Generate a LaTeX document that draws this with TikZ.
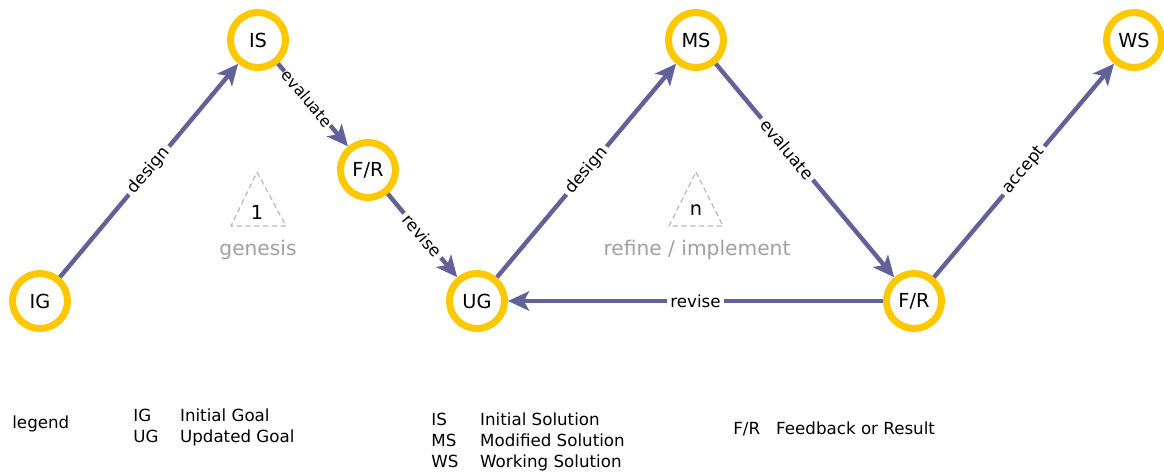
\documentclass[tikz,border=0pt]{standalone}
\usepackage{fontspec}
\setmainfont{DejaVu Sans}
\usetikzlibrary{arrows.meta}
\definecolor{ringgold}{RGB}{252,200,0}
\definecolor{flowblue}{RGB}{98,98,152}
\definecolor{softgray}{RGB}{160,160,160}
\definecolor{dashgray}{RGB}{185,185,185}
\begin{document}
\begin{tikzpicture}[x=0.02cm, y=-0.02cm,
    stage/.style={circle, draw=ringgold, line width=4pt, minimum size=1.1cm,
      inner sep=0pt, font=\fontsize{11}{13}\selectfont},
    flow/.style={draw=flowblue, line width=2.5pt,
      -{Stealth[length=12pt, width=11pt, inset=3pt]}},
    lbl/.style={sloped, fill=white, inner xsep=2pt, inner ysep=1pt,
      font=\fontsize{9.5}{11}\selectfont},
    phase/.style={text=softgray, font=\fontsize{11.5}{13}\selectfont},
    legend/.style={anchor=west, inner sep=0pt}]
    \useasboundingbox (0,0) rectangle (1164,474);
    % stages
    \node[stage] (ig) at (40,301) {IG};
    \node[stage] (is) at (258,40) {IS};
    \node[stage] (fr1) at (368,170) {F/R};
    \node[stage] (ug) at (477,301) {UG};
    \node[stage] (ms) at (696,40) {MS};
    \node[stage] (fr2) at (914,301) {F/R};
    \node[stage] (ws) at (1134,40) {WS};
    % flows
    \draw[flow] (ig) -- node[lbl] {design} (is);
    \draw[flow] (is) -- node[lbl, pos=0.42, inner xsep=0.5pt,
      font=\fontsize{9}{10}\selectfont] {evaluate} (fr1);
    \draw[flow] (fr1) -- node[lbl] {revise} (ug);
    \draw[flow] (ug) -- node[lbl] {design} (ms);
    \draw[flow] (ms) -- node[lbl, pos=0.4] {evaluate} (fr2);
    \draw[flow] (fr2) -- node[lbl] {revise} (ug);
    \draw[flow] (fr2) -- node[lbl] {accept} (ws);
    % phases
    \draw[dashgray, line width=0.7pt, dash pattern=on 3pt off 2pt]
      (257,172) -- (286,226) -- (231,226) -- cycle;
    \node[font=\fontsize{11}{13}\selectfont] (one) at (257,212) {1};
    \node[phase] (gen) at (258,250) {genesis};
    \draw[dashgray, line width=0.7pt, dash pattern=on 3pt off 2pt]
      (696,172) -- (723,226) -- (669,226) -- cycle;
    \node[font=\fontsize{11}{13}\selectfont] (nth) at (696,210) {n};
    \node[phase] (ref) at (697,250) {refine / implement};
    % legend
    \node[legend, font=\fontsize{9.5}{11.5}\selectfont] (leg) at (12,424) {legend};
    \node[legend, font=\fontsize{9.5}{11.5}\selectfont] (legG) at (133,428)
      {\begin{tabular}{@{}p{26.6pt}@{}l@{}}IG & Initial Goal\\UG & Updated Goal\end{tabular}};
    \node[legend, font=\fontsize{9.5}{12}\selectfont] (legS) at (431,442)
      {\begin{tabular}{@{}p{27.8pt}@{}l@{}}IS & Initial Solution\\MS & Modified Solution\\WS & Working Solution\end{tabular}};
    \node[legend, font=\fontsize{9.5}{11.5}\selectfont] (legF) at (733,430)
      {\begin{tabular}{@{}p{24.4pt}@{}l@{}}F/R & Feedback or Result\end{tabular}};
\end{tikzpicture}
\end{document}
